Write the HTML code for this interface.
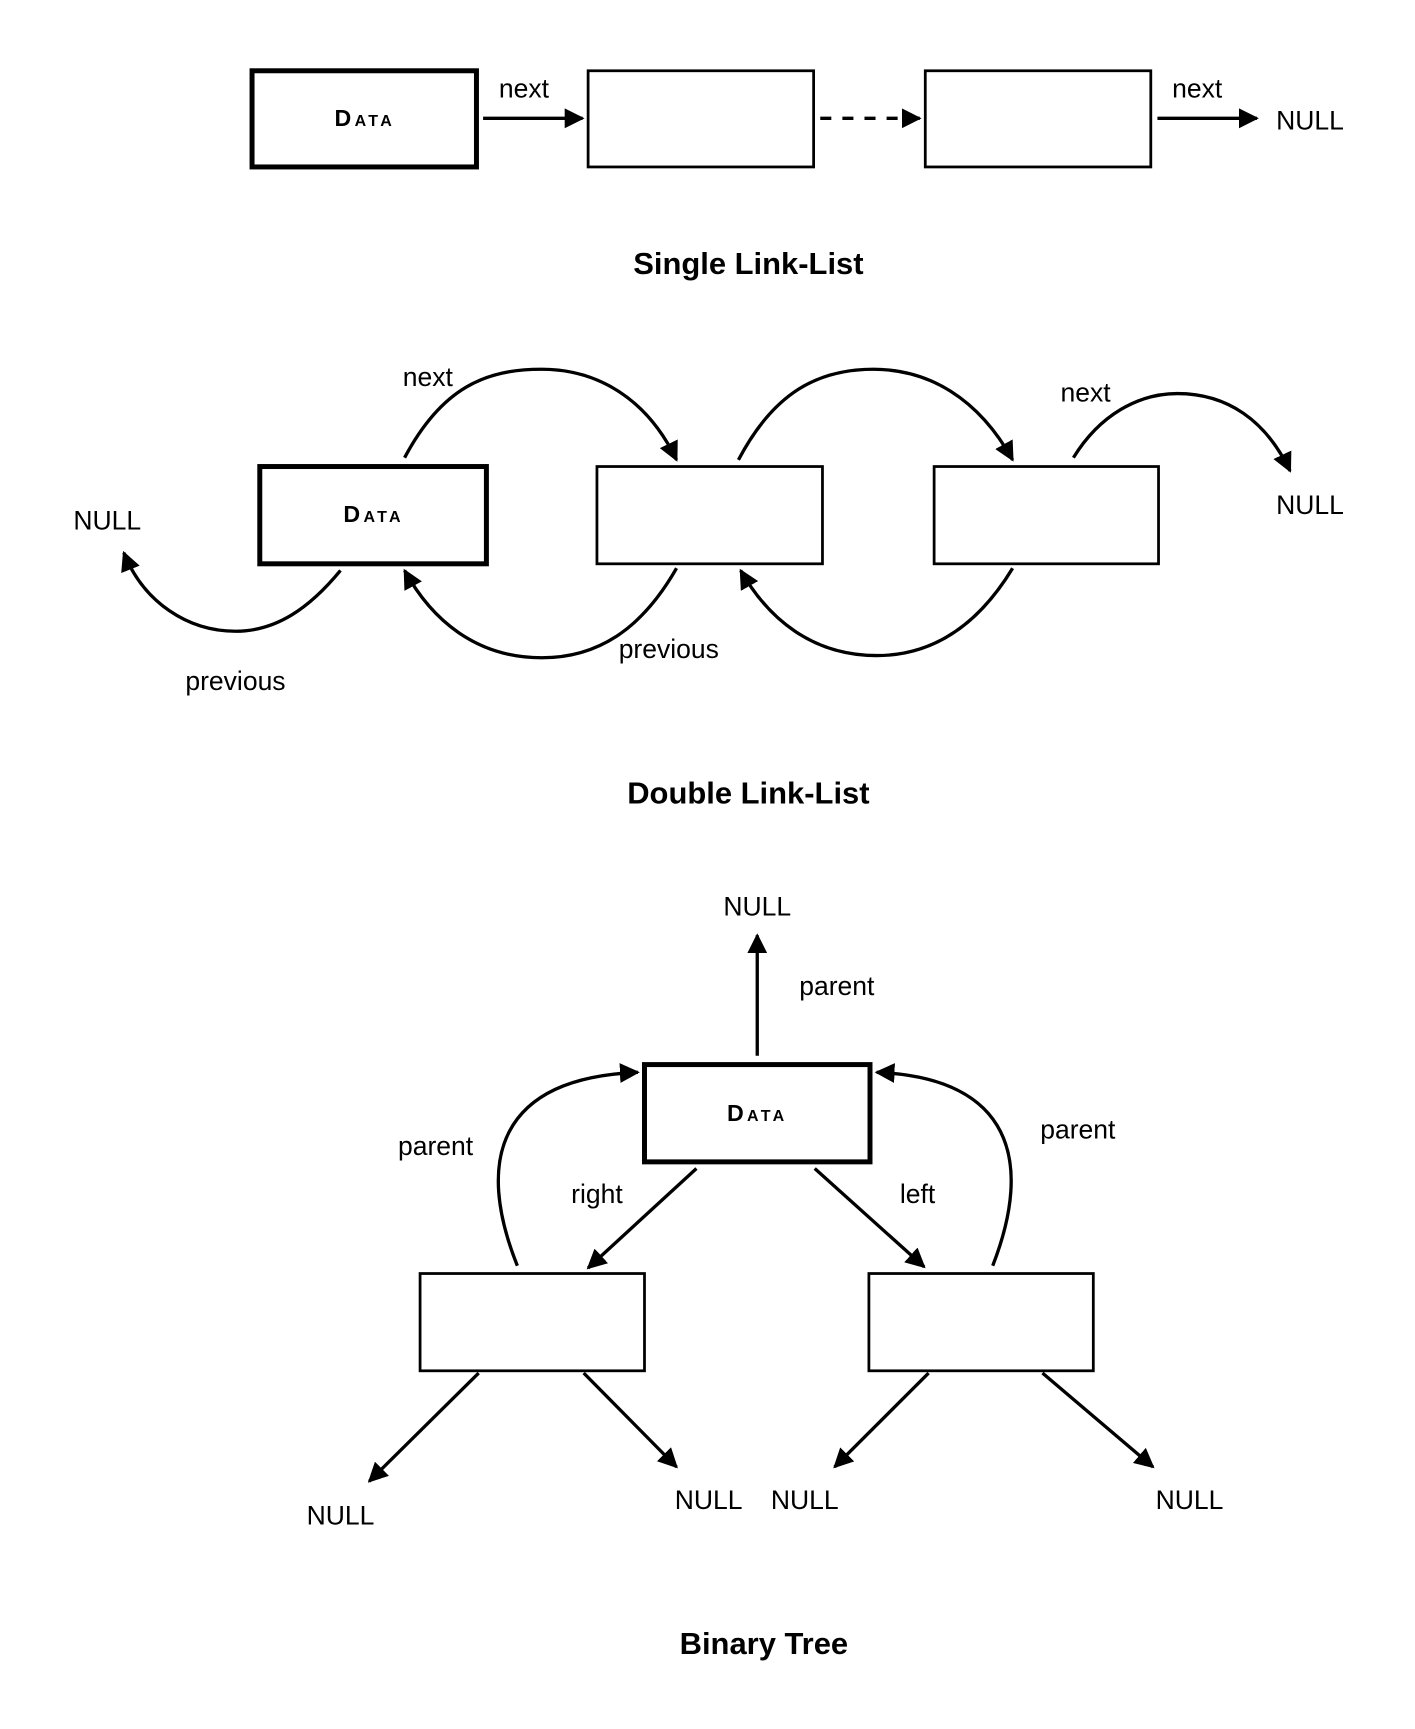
<!DOCTYPE html>
<html><head><meta charset="utf-8"><style>
html,body{margin:0;padding:0;background:#fff}
svg{display:block}
text{font-family:"Liberation Sans",sans-serif;fill:#000}
.l{font-size:24px;text-anchor:middle}
.t{font-size:28px;font-weight:bold;text-anchor:middle}
.d{font-size:21px;font-weight:bold;text-anchor:middle;font-variant:small-caps;letter-spacing:3px}
</style></head><body>
<svg width="1415" height="1729" viewBox="0 0 1280 1564" xmlns="http://www.w3.org/2000/svg">
<defs><marker id="a" viewBox="0 0 10 10" refX="9" refY="5" markerWidth="6" markerHeight="6" orient="auto" markerUnits="strokeWidth"><path d="M0,0 L10,5 L0,10 z" fill="#000"/></marker></defs>
<g fill="none" stroke="#000">
<rect x="228" y="64" width="203" height="87" stroke-width="4.5"/>
<rect x="532" y="64" width="204" height="87" stroke-width="2.5"/>
<rect x="837" y="64" width="204" height="87" stroke-width="2.5"/>
<g stroke-width="3" marker-end="url(#a)">
<line x1="437" y1="107" x2="527" y2="107"/>
<line x1="742" y1="107" x2="832" y2="107" stroke-dasharray="10,10"/>
<line x1="1047" y1="107" x2="1137" y2="107"/>
</g>
<rect x="235" y="422" width="205" height="88" stroke-width="4.5"/>
<rect x="540" y="422" width="204" height="88" stroke-width="2.5"/>
<rect x="845" y="422" width="203" height="88" stroke-width="2.5"/>
<g stroke-width="3" marker-end="url(#a)">
<path d="M366 414 C 400 350, 440 334, 490 334 C 540 334, 585 360, 612 416"/>
<path d="M668 416 C 700 355, 740 334, 790 334 C 840 334, 885 360, 916 416"/>
<path d="M971 414 C 995 375, 1030 356, 1065 356 C 1110 356, 1145 380, 1167 426"/>
<path d="M308 516 C 280 550, 250 571, 213 571 C 170 571, 130 545, 112 500"/>
<path d="M612 514 C 580 570, 540 595, 490 595 C 430 595, 390 560, 366 516"/>
<path d="M916 514 C 885 565, 845 593, 793 593 C 735 593, 695 560, 670 516"/>
<line x1="685" y1="955" x2="685" y2="846"/>
<path d="M468 1145 C 430 1050, 450 975, 577 970"/>
<path d="M898 1145 C 935 1050, 915 975, 793 970"/>
<line x1="630" y1="1057" x2="532" y2="1147"/>
<line x1="737" y1="1057" x2="836" y2="1146"/>
<line x1="433" y1="1242" x2="334" y2="1340"/>
<line x1="528" y1="1242" x2="612" y2="1327"/>
<line x1="840" y1="1242" x2="755" y2="1327"/>
<line x1="943" y1="1242" x2="1043" y2="1327"/>
</g>
<rect x="583" y="963" width="204" height="88" stroke-width="4.5"/>
<rect x="380" y="1152" width="203" height="88" stroke-width="2.5"/>
<rect x="786" y="1152" width="203" height="88" stroke-width="2.5"/>
</g>
<text class="d" x="330" y="114">Data</text>
<text class="d" x="338" y="472">Data</text>
<text class="d" x="685" y="1014">Data</text>
<text class="l" x="474" y="88">next</text>
<text class="l" x="1083" y="88">next</text>
<text class="l" x="1185" y="117">NULL</text>
<text class="t" x="677" y="248">Single Link-List</text>
<text class="l" x="387" y="349">next</text>
<text class="l" x="982" y="363">next</text>
<text class="l" x="1185" y="465">NULL</text>
<text class="l" x="97" y="479">NULL</text>
<text class="l" x="213" y="624">previous</text>
<text class="l" x="605" y="595">previous</text>
<text class="t" x="677" y="727">Double Link-List</text>
<text class="l" x="685" y="828">NULL</text>
<text class="l" x="757" y="900">parent</text>
<text class="l" x="394" y="1045">parent</text>
<text class="l" x="975" y="1030">parent</text>
<text class="l" x="540" y="1088">right</text>
<text class="l" x="830" y="1088">left</text>
<text class="l" x="308" y="1379">NULL</text>
<text class="l" x="641" y="1365">NULL</text>
<text class="l" x="728" y="1365">NULL</text>
<text class="l" x="1076" y="1365">NULL</text>
<text class="t" x="691" y="1496">Binary Tree</text>
</svg>
</body></html>
